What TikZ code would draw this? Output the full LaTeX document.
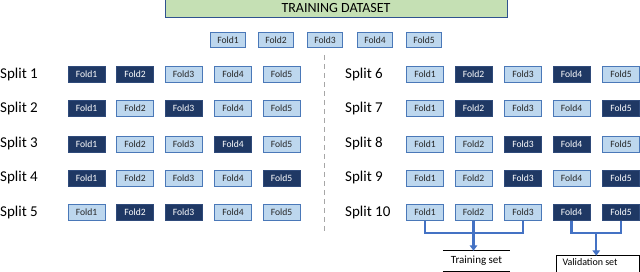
\documentclass[tikz,border=0pt]{standalone}
\usepackage{fontspec}
\setmainfont{Carlito}
\usetikzlibrary{arrows.meta,calc}
\definecolor{lightfold}{HTML}{BDD7EE}
\definecolor{lightedge}{HTML}{4A78B8}
\definecolor{darkfold}{HTML}{1F3864}
\definecolor{darkedge}{HTML}{2F4A7A}
\definecolor{greenbox}{HTML}{C5E0B4}
\definecolor{greenedge}{HTML}{2F528F}
\definecolor{bracketblue}{HTML}{4472C4}
\definecolor{foldtext}{HTML}{262626}
\tikzset{
  foldbase/.style={minimum width=37pt,minimum height=16pt,inner sep=0pt,font=\fontsize{9.6}{10}\selectfont,line width=0.8pt},
  lf/.style={foldbase,fill=lightfold,draw=lightedge,text=foldtext},
  df/.style={foldbase,fill=darkfold,draw=darkedge,text=white},
  topf/.style={lf,minimum width=35pt,minimum height=15pt},
  splitlbl/.style={font=\fontsize{15}{17}\selectfont,inner sep=0pt,anchor=west},
  bracket/.style={draw=bracketblue,line width=2.3pt},
  tip/.style={-{Triangle[width=7.5pt,length=5.5pt]}},
  divider/.style={draw=black!35,line width=0.7pt,dash pattern=on 5pt off 4pt},
  setlbl/.style={inner sep=0pt,text=black}
}
\begin{document}
\begin{tikzpicture}[x=1pt,y=-1pt]
\useasboundingbox (0,0) rectangle (640,272);
% title
\node[fill=greenbox,draw=greenedge,line width=0.8pt,minimum width=342pt,minimum height=18pt,inner sep=0pt,font=\fontsize{14}{16}\selectfont] (title) at (336,8) {TRAINING DATASET};
% top folds
\foreach \i/\x in {1/228,2/276,3/325,4/375,5/424}{
  \node[topf] (t\i) at (\x,40) {Fold\i};
}
% divider
\coordinate (dtop) at (324,55);
\coordinate (dbot) at (324,233);
\draw[divider] (dtop) -- (dbot);
% rows: split number / y / dark folds
\foreach \s/\yy/\da/\db in {1/74.5/1/2,2/108.5/1/3,3/144/1/4,4/178/1/5,5/212.5/2/3}{
  \node[splitlbl] (l\s) at (0,\yy) {Split \s};
  \foreach \c/\x in {1/86.5,2/135,3/183.5,4/233,5/281.5}{
    \pgfmathtruncatemacro{\isd}{(\c==\da)||(\c==\db)}
    \ifnum\isd=1
      \node[df] (r\s c\c) at (\x,\yy) {Fold\c};
    \else
      \node[lf] (r\s c\c) at (\x,\yy) {Fold\c};
    \fi
  }
}
\foreach \s/\yy/\da/\db in {6/74.5/2/4,7/108.5/2/5,8/144/3/4,9/178/3/5,10/212.5/4/5}{
  \node[splitlbl] (l\s) at (345,\yy) {Split \s};
  \foreach \c/\x in {1/425,2/473.5,3/523,4/571.5,5/621}{
    \pgfmathtruncatemacro{\isd}{(\c==\da)||(\c==\db)}
    \ifnum\isd=1
      \node[df] (r\s c\c) at (\x,\yy) {Fold\c};
    \else
      \node[lf] (r\s c\c) at (\x,\yy) {Fold\c};
    \fi
  }
}
% set labels
\node[setlbl,minimum width=67pt,minimum height=20pt,font=\fontsize{11}{12}\selectfont] (train) at (476.5,261) {Training set};
\draw[line width=0.8pt] (train.north west) -- (train.north east);
\draw[line width=0.8pt] (train.south west) -- (train.south east);
\node[setlbl,minimum width=82pt,minimum height=18pt] (val) at (598,265) {};
\node[setlbl,font=\fontsize{10}{11}\selectfont] (valtxt) at (590,262.5) {Validation set};
\draw[line width=0.8pt] (val.south west) -- (val.north west) -- (val.north east) -- (val.south east);
% brackets
\coordinate (bar) at (0,233);
\draw[bracket] (r10c1.south) |- (r10c3.south |- bar) -- (r10c3.south);
\draw[bracket] (r10c2.south) -- (r10c2.south |- bar);
\draw[bracket,tip] (r10c2.south |- bar) -- (r10c2.south |- train.north);
\draw[bracket] (r10c4.south) |- (r10c5.south |- bar) -- (r10c5.south);
\coordinate (vmid) at ($(r10c4.south |- bar)!0.5!(r10c5.south |- bar)$);
\draw[bracket,tip] (vmid) -- (vmid |- val.north);
\end{tikzpicture}
\end{document}
